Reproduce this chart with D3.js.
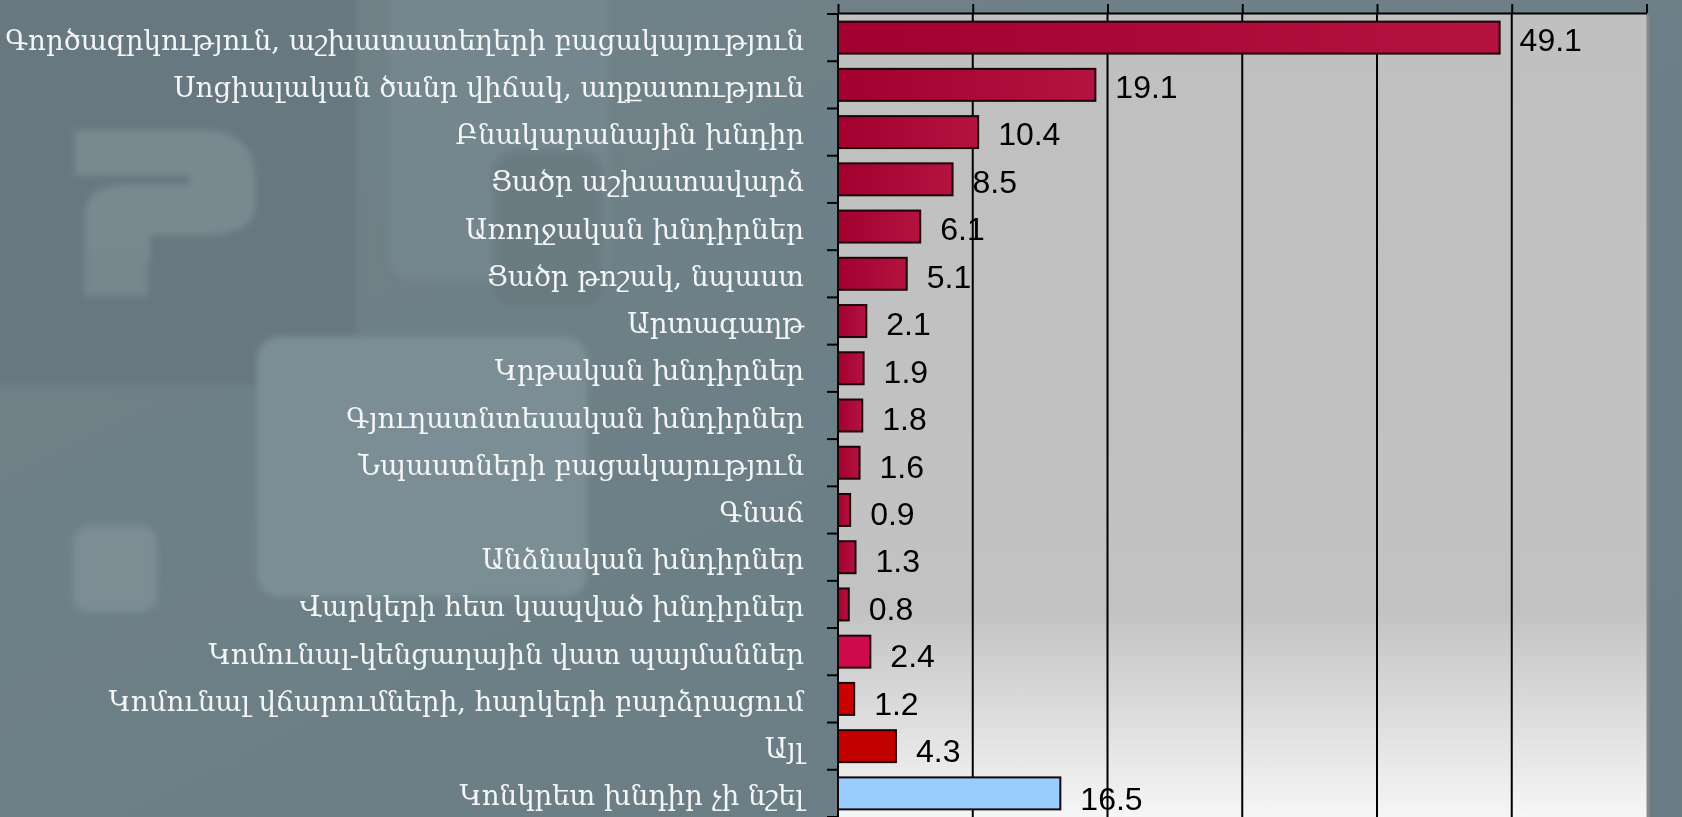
<!DOCTYPE html>
<html>
<head>
    <meta charset="utf-8">
    <script src="https://d3js.org/d3.v7.min.js"></script>
    <style>
        body {
            margin: 0;
            background: #6e8088;
            overflow: hidden;
        }

        .cat-label {
            font-family: 'DejaVu Serif', 'DejaVu Sans', serif;
            font-size: 27.6px;
            fill: #f4f5f5;
            text-anchor: end;
        }

        .value-label {
            font-family: 'Liberation Sans', Arial, sans-serif;
            font-size: 32px;
            fill: #000;
        }
    </style>
</head>

<body>
    <script>
        // problems named by respondents, % of answers
        const categories = [
            'Գործազրկություն, աշխատատեղերի բացակայություն',
            'Սոցիալական ծանր վիճակ, աղքատություն',
            'Բնակարանային խնդիր',
            'Ցածր աշխատավարձ',
            'Առողջական խնդիրներ',
            'Ցածր թոշակ, նպաստ',
            'Արտագաղթ',
            'Կրթական խնդիրներ',
            'Գյուղատնտեսական խնդիրներ',
            'Նպաստների բացակայություն',
            'Գնաճ',
            'Անձնական խնդիրներ',
            'Վարկերի հետ կապված խնդիրներ',
            'Կոմունալ-կենցաղային վատ պայմաններ',
            'Կոմունալ վճարումների, հարկերի բարձրացում',
            'Այլ',
            'Կոնկրետ խնդիր չի նշել'
        ];
        const values = [49.1, 19.1, 10.4, 8.5, 6.1, 5.1, 2.1, 1.9, 1.8, 1.6, 0.9, 1.3, 0.8, 2.4, 1.2, 4.3, 16.5];
        const xTicks = [0, 10, 20, 30, 40, 50, 60];

        const width = 1682,
            height = 817;

        const plot = {left: 838, right: 1646.5, top: 13, bottom: 817};

        const x = d3.scaleLinear()
            .domain([0, 60])
            .range([plot.left, plot.right]);

        const y = d3.scaleBand()
            .domain(categories)
            .range([plot.top + 1, plot.bottom])
            .paddingInner(0.323)
            .paddingOuter(0.1615);

        // bar fills: the first 13 share a crimson gradient, the rest stand alone
        const fillFor = (d, i) => {
            if (i < 13) return 'url(#crimson)';
            return ['#cc0a4c', '#c80000', '#c20000', '#99ccff'][i - 13];
        };

        const svg = d3.select('body').append('svg')
            .attr('width', width)
            .attr('height', height);

        const defs = svg.append('defs');

        const bg = defs.append('linearGradient').attr('id', 'bg')
            .attr('x1', 0).attr('y1', 0).attr('x2', 1).attr('y2', 1);
        bg.append('stop').attr('offset', '0%').attr('stop-color', '#718389');
        bg.append('stop').attr('offset', '100%').attr('stop-color', '#6a7c84');

        const plotBg = defs.append('linearGradient').attr('id', 'plotBg')
            .attr('x1', 0).attr('y1', 0).attr('x2', 0).attr('y2', 1);
        plotBg.append('stop').attr('offset', '0%').attr('stop-color', '#c0c0c0');
        plotBg.append('stop').attr('offset', '74%').attr('stop-color', '#c2c2c2');
        plotBg.append('stop').attr('offset', '100%').attr('stop-color', '#f6f6f6');

        const crimson = defs.append('linearGradient').attr('id', 'crimson')
            .attr('x1', 0).attr('y1', 0).attr('x2', 1).attr('y2', 0);
        crimson.append('stop').attr('offset', '0%').attr('stop-color', '#a2002f');
        crimson.append('stop').attr('offset', '100%').attr('stop-color', '#b4123f');

        defs.append('filter').attr('id', 'soft')
            .append('feGaussianBlur').attr('stdDeviation', 3);

        // backdrop
        svg.append('rect')
            .attr('width', width).attr('height', height)
            .attr('fill', 'url(#bg)');

        const deco = svg.append('g').attr('filter', 'url(#soft)');
        deco.append('rect')
            .attr('x', -10).attr('y', -10).attr('width', 367).attr('height', 396)
            .attr('fill', '#66777e').attr('opacity', 0.8);
        deco.append('rect')
            .attr('x', 389).attr('y', -20).attr('width', 220).attr('height', 300).attr('rx', 22)
            .attr('fill', '#7a8c93').attr('opacity', 0.5);
        deco.append('rect')
            .attr('x', 493).attr('y', 150).attr('width', 110).attr('height', 158).attr('rx', 22)
            .attr('fill', '#68797f').attr('opacity', 0.8);
        deco.append('rect')
            .attr('x', 257).attr('y', 337).attr('width', 330).attr('height', 260).attr('rx', 22)
            .attr('fill', '#7c8e95');
        deco.append('rect')
            .attr('x', 73).attr('y', 526).attr('width', 84).attr('height', 86).attr('rx', 16)
            .attr('fill', '#7b8d94');
        // question mark
        deco.append('path')
            .attr('d', 'M75,130 H200 Q255,130 255,180 V205 Q255,235 200,235 H150 V262 H85 V215 Q85,185 130,185 H190 V175 H75 Z')
            .attr('fill', '#78898f');
        deco.append('rect')
            .attr('x', 85).attr('y', 250).attr('width', 62).attr('height', 46)
            .attr('fill', '#76878d');

        // plot area
        svg.append('rect')
            .attr('x', plot.left + 2).attr('y', plot.top + 2)
            .attr('width', plot.right - plot.left + 1).attr('height', plot.bottom - plot.top)
            .attr('fill', '#8a8a8a');
        svg.append('rect')
            .attr('x', plot.left).attr('y', plot.top)
            .attr('width', plot.right - plot.left).attr('height', plot.bottom - plot.top)
            .attr('fill', 'url(#plotBg)');

        // vertical grid
        svg.append('g')
            .selectAll('line')
            .data(xTicks.slice(1, -1))
            .join('line')
            .attr('x1', d => x(d)).attr('x2', d => x(d))
            .attr('y1', plot.top).attr('y2', plot.bottom)
            .attr('stroke', '#000')
            .attr('stroke-width', 2);

        // top axis: line and ticks only
        const xAxis = svg.append('g')
            .attr('transform', `translate(0,${plot.top})`)
            .call(d3.axisTop(x).tickValues(xTicks).tickFormat('').tickSize(9).tickSizeOuter(0));
        xAxis.selectAll('path, line').attr('stroke', '#000').attr('stroke-width', 2);

        // left axis: ticks at band edges
        const edges = d3.range(categories.length + 1).map(i => plot.top + 1 + i * y.step());
        const yAxis = svg.append('g');
        yAxis.append('line')
            .attr('x1', plot.left).attr('x2', plot.left)
            .attr('y1', plot.top).attr('y2', plot.bottom)
            .attr('stroke', '#000').attr('stroke-width', 2);
        yAxis.selectAll('line.tick')
            .data(edges)
            .join('line')
            .attr('class', 'tick')
            .attr('x1', plot.left - 11).attr('x2', plot.left)
            .attr('y1', d => d).attr('y2', d => d)
            .attr('stroke', '#000').attr('stroke-width', 2);

        // bars
        svg.append('g')
            .selectAll('rect')
            .data(values)
            .join('rect')
            .attr('x', x(0))
            .attr('y', (d, i) => y(categories[i]))
            .attr('width', d => x(d) - x(0))
            .attr('height', y.bandwidth())
            .attr('fill', fillFor)
            .attr('stroke', '#1c0508')
            .attr('stroke-width', 2);

        // value labels
        svg.append('g')
            .selectAll('text')
            .data(values)
            .join('text')
            .attr('class', 'value-label')
            .attr('x', d => x(d) + 20)
            .attr('y', (d, i) => y(categories[i]) + y.bandwidth() / 2 + 2 + i * 0.2)
            .attr('dominant-baseline', 'central')
            .text(d => d3.format('.1f')(d));

        // category labels
        svg.append('g')
            .selectAll('text')
            .data(categories)
            .join('text')
            .attr('class', 'cat-label')
            .attr('x', plot.left - 34)
            .attr('y', d => y(d) + y.bandwidth() / 2 + 12)
            .text(d => d);
    </script>
</body>

</html>
